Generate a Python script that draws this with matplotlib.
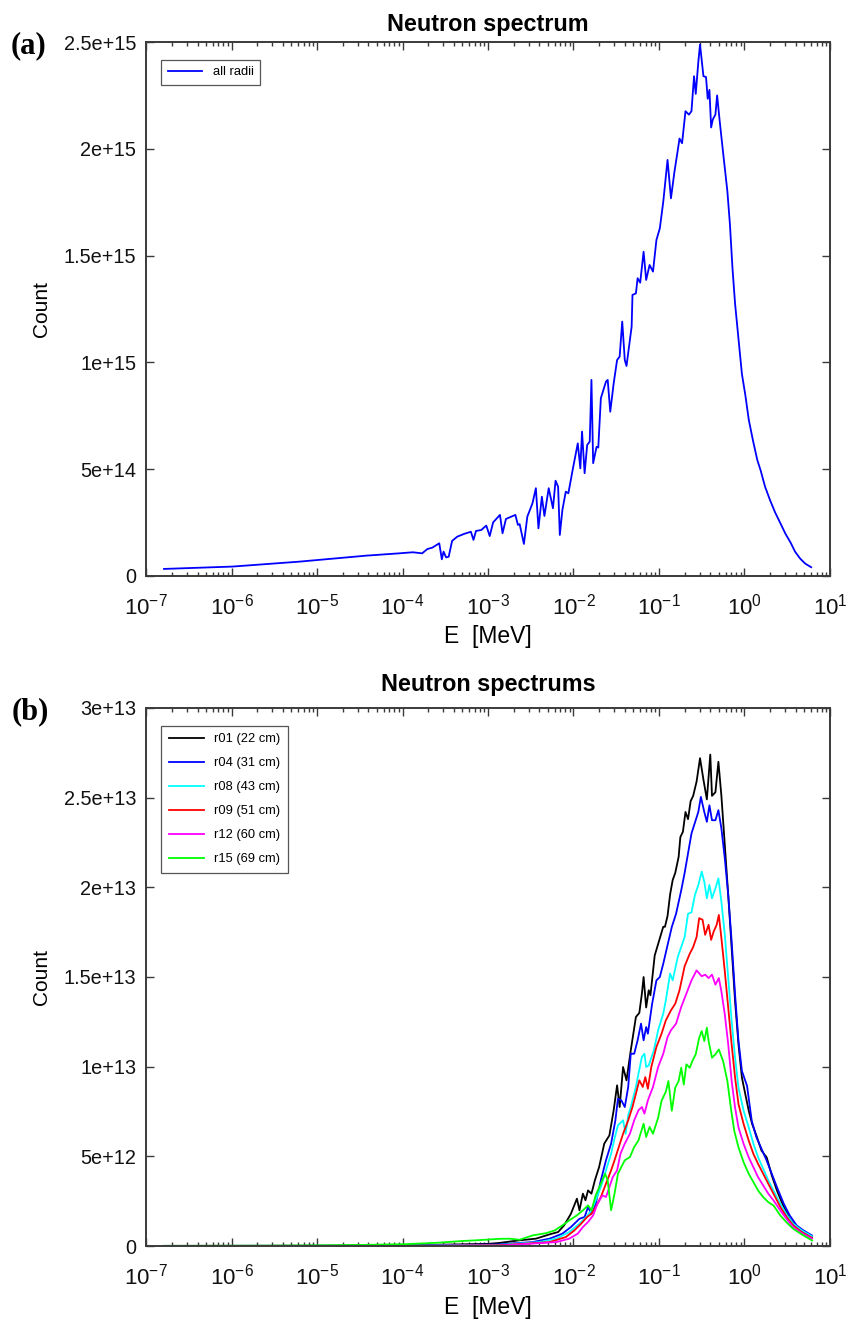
import numpy as np
import matplotlib
matplotlib.use("Agg")
import matplotlib.pyplot as plt
from matplotlib.ticker import LogLocator, FuncFormatter, NullFormatter

plt.rcParams['font.family'] = ['Liberation Sans', 'DejaVu Sans']
plt.rcParams['mathtext.fontset'] = 'custom'
plt.rcParams['mathtext.rm'] = 'Liberation Sans'
plt.rcParams['axes.unicode_minus'] = False

# ---- (a) total spectrum, all radii: log10(E/MeV) and count in 1e15 ----
all_logE = [-6.79, -5.99, -5.21, -4.68, -4.43, -4.04, -3.88, -3.77, -3.71, -3.65,
            -3.57, -3.54, -3.52, -3.49, -3.46, -3.42, -3.36, -3.28, -3.20, -3.17,
            -3.14, -3.08, -3.02, -2.98, -2.94, -2.86, -2.83, -2.79, -2.68, -2.65,
            -2.63, -2.58, -2.54, -2.48, -2.44, -2.41, -2.37, -2.34, -2.29, -2.24,
            -2.21, -2.18, -2.16, -2.13, -2.09, -2.06, -2.01, -1.95, -1.92, -1.90,
            -1.87, -1.84, -1.81, -1.79, -1.77, -1.73, -1.71, -1.68, -1.62, -1.60,
            -1.57, -1.53, -1.49, -1.46, -1.43, -1.40, -1.38, -1.32, -1.31, -1.27,
            -1.25, -1.22, -1.18, -1.15, -1.11, -1.07, -1.03, -0.99, -0.95, -0.90,
            -0.86, -0.82, -0.78, -0.76, -0.73, -0.69, -0.65, -0.62, -0.59, -0.57,
            -0.54, -0.52, -0.48, -0.45, -0.43, -0.41, -0.39, -0.37, -0.34, -0.32,
            -0.29, -0.25, -0.20, -0.17, -0.14, -0.11, -0.07, -0.03, 0.01, 0.05,
            0.10, 0.15, 0.19, 0.24, 0.30, 0.36, 0.42, 0.48, 0.54, 0.59,
            0.65, 0.71, 0.78]
all_count = [0.033, 0.044, 0.067, 0.086, 0.095, 0.106, 0.111, 0.106, 0.126, 0.133,
             0.153, 0.078, 0.114, 0.087, 0.090, 0.164, 0.184, 0.197, 0.207, 0.169,
             0.211, 0.215, 0.236, 0.187, 0.251, 0.286, 0.200, 0.267, 0.286, 0.239,
             0.243, 0.150, 0.278, 0.340, 0.411, 0.223, 0.371, 0.281, 0.411, 0.317,
             0.446, 0.418, 0.192, 0.309, 0.395, 0.387, 0.496, 0.621, 0.504, 0.676,
             0.481, 0.613, 0.629, 0.918, 0.528, 0.605, 0.601, 0.832, 0.910, 0.918,
             0.769, 0.902, 1.011, 1.027, 1.191, 1.011, 0.983, 1.167, 1.316, 1.323,
             1.394, 1.373, 1.518, 1.386, 1.456, 1.425, 1.573, 1.628, 1.752, 1.948,
             1.768, 1.890, 1.994, 2.048, 2.026, 2.176, 2.160, 2.176, 2.340, 2.257,
             2.406, 2.488, 2.340, 2.336, 2.234, 2.276, 2.100, 2.138, 2.160, 2.250,
             2.130, 1.982, 1.801, 1.645, 1.439, 1.275, 1.110, 0.946, 0.847, 0.732,
             0.633, 0.543, 0.493, 0.419, 0.354, 0.296, 0.247, 0.197, 0.156, 0.115,
             0.082, 0.058, 0.041]

# ---- (b) spectra per radius: log10(E/MeV) and count in 1e13 ----
r01_logE = [-6.79, -5.0, -4.0, -3.5, -3.0, -2.87, -2.63, -2.44, -2.28, -2.18,
            -2.11, -2.03, -1.96, -1.93, -1.89, -1.86, -1.83, -1.79, -1.75, -1.70,
            -1.64, -1.58, -1.53, -1.49, -1.46, -1.42, -1.38, -1.33, -1.27, -1.23,
            -1.20, -1.18, -1.15, -1.12, -1.10, -1.05, -1.00, -0.95, -0.93, -0.90,
            -0.87, -0.84, -0.81, -0.77, -0.75, -0.72, -0.69, -0.66, -0.63, -0.60,
            -0.56, -0.52, -0.48, -0.44, -0.40, -0.38, -0.34, -0.305, -0.27, -0.23,
            -0.19, -0.15, -0.11, -0.07, -0.03, 0.01, 0.05, 0.09, 0.14, 0.20,
            0.26, 0.32, 0.38, 0.46, 0.53, 0.61, 0.69, 0.79]
r01_count = [0.001, 0.002, 0.004, 0.008, 0.012, 0.017, 0.032, 0.041, 0.065, 0.078,
             0.115, 0.180, 0.264, 0.199, 0.292, 0.255, 0.310, 0.292, 0.366, 0.441,
             0.571, 0.617, 0.757, 0.896, 0.775, 0.998, 0.924, 1.091, 1.277, 1.300,
             1.407, 1.500, 1.330, 1.426, 1.398, 1.620, 1.700, 1.780, 1.780, 1.840,
             1.960, 2.040, 2.080, 2.170, 2.280, 2.310, 2.420, 2.380, 2.480, 2.510,
             2.590, 2.720, 2.600, 2.490, 2.740, 2.510, 2.530, 2.700, 2.510, 2.235,
             1.957, 1.661, 1.365, 1.124, 0.939, 0.846, 0.754, 0.680, 0.615, 0.531,
             0.494, 0.393, 0.309, 0.217, 0.152, 0.106, 0.078, 0.050]

r04_logE = [-6.79, -5.0, -4.0, -3.5, -3.0, -2.87, -2.48, -2.28, -2.13, -2.03,
            -1.93, -1.87, -1.83, -1.79, -1.74, -1.68, -1.62, -1.56, -1.51, -1.48,
            -1.44, -1.40, -1.36, -1.33, -1.29, -1.25, -1.21, -1.18, -1.15, -1.13,
            -1.08, -1.03, -0.99, -0.95, -0.90, -0.85, -0.80, -0.74, -0.70, -0.66,
            -0.62, -0.58, -0.54, -0.51, -0.47, -0.44, -0.41, -0.38, -0.34, -0.305,
            -0.27, -0.23, -0.19, -0.15, -0.11, -0.07, -0.03, 0.03, 0.085, 0.14,
            0.20, 0.26, 0.32, 0.38, 0.46, 0.53, 0.61, 0.69, 0.79]
r04_count = [0.0005, 0.001, 0.002, 0.005, 0.008, 0.009, 0.022, 0.041, 0.069, 0.106,
             0.152, 0.162, 0.217, 0.180, 0.236, 0.366, 0.478, 0.571, 0.701, 0.822,
             0.812, 0.775, 0.887, 1.072, 1.072, 1.147, 1.240, 1.147, 1.221, 1.184,
             1.351, 1.481, 1.500, 1.574, 1.677, 1.779, 1.853, 1.983, 2.080, 2.190,
             2.300, 2.360, 2.420, 2.504, 2.420, 2.365, 2.457, 2.374, 2.374, 2.430,
             2.328, 2.161, 1.957, 1.698, 1.402, 1.143, 0.976, 0.893, 0.698, 0.606,
             0.541, 0.476, 0.402, 0.328, 0.235, 0.170, 0.115, 0.087, 0.059]

r08_logE = [-6.79, -5.0, -4.0, -3.5, -3.0, -2.87, -2.40, -2.20, -2.05, -1.93,
            -1.85, -1.79, -1.74, -1.68, -1.62, -1.56, -1.52, -1.48, -1.42, -1.39,
            -1.36, -1.33, -1.27, -1.24, -1.20, -1.17, -1.15, -1.12, -1.06, -1.01,
            -0.95, -0.92, -0.87, -0.84, -0.78, -0.70, -0.66, -0.62, -0.58, -0.54,
            -0.50, -0.47, -0.44, -0.41, -0.38, -0.34, -0.305, -0.27, -0.23, -0.19,
            -0.15, -0.11, -0.07, -0.01, 0.05, 0.105, 0.16, 0.22, 0.28, 0.34,
            0.42, 0.50, 0.57, 0.67, 0.79]
r08_count = [0.0005, 0.001, 0.002, 0.004, 0.006, 0.006, 0.022, 0.041, 0.078, 0.125,
             0.162, 0.199, 0.255, 0.329, 0.422, 0.515, 0.599, 0.673, 0.701, 0.626,
             0.729, 0.775, 0.887, 0.961, 1.054, 1.072, 0.998, 1.007, 1.091, 1.203,
             1.296, 1.370, 1.519, 1.481, 1.612, 1.723, 1.853, 1.860, 1.957, 2.013,
             2.087, 2.031, 1.939, 2.013, 1.939, 1.994, 2.050, 1.920, 1.735, 1.494,
             1.254, 1.050, 0.883, 0.754, 0.661, 0.569, 0.494, 0.430, 0.365, 0.309,
             0.235, 0.170, 0.124, 0.087, 0.054]

r09_logE = [-6.79, -5.0, -4.0, -3.5, -3.0, -2.87, -2.28, -2.09, -1.99, -1.91,
            -1.84, -1.79, -1.74, -1.68, -1.62, -1.56, -1.52, -1.47, -1.42, -1.36,
            -1.31, -1.27, -1.23, -1.19, -1.16, -1.13, -1.09, -1.03, -0.97, -0.92,
            -0.86, -0.81, -0.76, -0.70, -0.64, -0.60, -0.56, -0.53, -0.49, -0.46,
            -0.42, -0.39, -0.36, -0.325, -0.30, -0.27, -0.23, -0.19, -0.15, -0.11,
            -0.07, -0.01, 0.05, 0.105, 0.16, 0.22, 0.28, 0.34, 0.42, 0.50,
            0.57, 0.67, 0.79]
r09_count = [0.0003, 0.0005, 0.001, 0.002, 0.004, 0.004, 0.022, 0.050, 0.087, 0.125,
             0.162, 0.180, 0.217, 0.273, 0.348, 0.422, 0.478, 0.552, 0.626, 0.701,
             0.775, 0.849, 0.924, 0.887, 0.942, 0.877, 0.998, 1.110, 1.184, 1.258,
             1.314, 1.351, 1.426, 1.560, 1.630, 1.667, 1.723, 1.828, 1.819, 1.735,
             1.791, 1.707, 1.754, 1.791, 1.846, 1.717, 1.531, 1.328, 1.124, 0.939,
             0.791, 0.680, 0.587, 0.513, 0.457, 0.402, 0.346, 0.291, 0.217, 0.157,
             0.115, 0.078, 0.046]

r12_logE = [-6.79, -5.0, -4.0, -3.5, -3.0, -2.87, -2.20, -2.05, -1.95, -1.89,
            -1.83, -1.77, -1.72, -1.66, -1.62, -1.58, -1.54, -1.49, -1.45, -1.40,
            -1.34, -1.29, -1.24, -1.20, -1.17, -1.13, -1.07, -1.01, -0.95, -0.90,
            -0.86, -0.80, -0.74, -0.68, -0.62, -0.56, -0.50, -0.46, -0.42, -0.38,
            -0.34, -0.30, -0.27, -0.23, -0.19, -0.15, -0.11, -0.07, -0.01, 0.05,
            0.105, 0.16, 0.22, 0.28, 0.34, 0.42, 0.50, 0.57, 0.67, 0.79]
r12_count = [0.0003, 0.0005, 0.001, 0.002, 0.003, 0.002, 0.022, 0.041, 0.069, 0.106,
             0.134, 0.171, 0.236, 0.283, 0.273, 0.329, 0.385, 0.422, 0.515, 0.571,
             0.626, 0.701, 0.757, 0.775, 0.738, 0.812, 0.887, 0.998, 1.072, 1.165,
             1.203, 1.240, 1.333, 1.407, 1.481, 1.537, 1.504, 1.513, 1.494, 1.513,
             1.457, 1.494, 1.420, 1.291, 1.124, 0.920, 0.772, 0.661, 0.569, 0.494,
             0.439, 0.383, 0.337, 0.291, 0.254, 0.198, 0.146, 0.106, 0.072, 0.041]

r15_logE = [-6.79, -5.5, -4.9, -4.5, -4.0, -3.6, -3.3, -3.14, -3.0, -2.87,
            -2.75, -2.63, -2.48, -2.32, -2.22, -2.13, -2.05, -1.96, -1.89, -1.83,
            -1.79, -1.74, -1.68, -1.63, -1.60, -1.56, -1.52, -1.48, -1.44, -1.40,
            -1.34, -1.29, -1.24, -1.18, -1.15, -1.11, -1.07, -1.01, -0.97, -0.92,
            -0.89, -0.85, -0.81, -0.77, -0.74, -0.71, -0.68, -0.64, -0.61, -0.57,
            -0.53, -0.50, -0.47, -0.44, -0.42, -0.38, -0.34, -0.30, -0.25, -0.20,
            -0.16, -0.12, -0.07, -0.01, 0.05, 0.105, 0.16, 0.22, 0.28, 0.34,
            0.42, 0.50, 0.57, 0.67, 0.79]
r15_count = [0.001, 0.002, 0.004, 0.006, 0.010, 0.018, 0.028, 0.032, 0.036, 0.040,
             0.041, 0.035, 0.059, 0.072, 0.087, 0.115, 0.143, 0.171, 0.199, 0.227,
             0.199, 0.283, 0.348, 0.403, 0.366, 0.199, 0.292, 0.403, 0.441, 0.478,
             0.496, 0.552, 0.589, 0.682, 0.608, 0.664, 0.626, 0.715, 0.810, 0.860,
             0.920, 0.754, 0.883, 0.920, 0.994, 0.900, 1.013, 0.994, 1.031, 1.069,
             1.161, 1.198, 1.143, 1.217, 1.143, 1.050, 1.069, 1.096, 1.031, 0.920,
             0.772, 0.643, 0.550, 0.467, 0.402, 0.356, 0.309, 0.272, 0.244, 0.226,
             0.170, 0.128, 0.096, 0.065, 0.031]

radius_labels = ['r01 (22 cm)', 'r04 (31 cm)', 'r08 (43 cm)',
                 'r09 (51 cm)', 'r12 (60 cm)', 'r15 (69 cm)']
radius_colors = ['#000000', '#0000ff', '#00ffff', '#ff0000', '#ff00ff', '#00ff00']
radius_series = [(r01_logE, r01_count), (r04_logE, r04_count), (r08_logE, r08_count),
                 (r09_logE, r09_count), (r12_logE, r12_count), (r15_logE, r15_count)]

fig = plt.figure(figsize=(8.53, 13.25), dpi=100)
ax_a = fig.add_axes([0.1712, 0.5653, 0.8018, 0.4030])
ax_b = fig.add_axes([0.1712, 0.0596, 0.8018, 0.4061])

spine_col = '#3a3a3a'


def style_axes(ax, ymax, ystep):
    ax.set_xscale('log')
    ax.set_xlim(1e-7, 1e1)
    ax.set_ylim(0, ymax)
    ax.set_yticks(np.arange(0, ymax + ystep / 2, ystep))
    ax.yaxis.set_major_formatter(FuncFormatter(lambda v, p: '%g' % v))
    ax.xaxis.set_major_locator(LogLocator(base=10, numticks=20))
    ax.xaxis.set_minor_locator(LogLocator(base=10, subs=np.arange(2, 10), numticks=20))
    ax.xaxis.set_minor_formatter(NullFormatter())
    ax.tick_params(which='both', direction='in', top=True, right=True,
                   color=spine_col, width=1.0, labelcolor='#111111')
    ax.tick_params(which='major', length=6)
    ax.tick_params(which='minor', length=3)
    ax.tick_params(axis='y', labelsize=14.3, pad=7)
    ax.tick_params(axis='x', labelsize=16, pad=13)
    for s in ax.spines.values():
        s.set_color(spine_col)
        s.set_linewidth(1.4)
    ax.set_ylabel('Count', fontsize=15, labelpad=9)
    ax.set_xlabel('E  [MeV]', fontsize=16.5, labelpad=4)


# (a) all radii
ax_a.plot(10.0 ** np.array(all_logE), np.array(all_count) * 1e15,
          color='#0000ff', lw=1.3, label='all radii')
style_axes(ax_a, 2.5e15, 5e14)
ax_a.set_title('Neutron spectrum', fontsize=16.8, fontweight='bold', pad=8)
leg_a = ax_a.legend(loc='upper left', bbox_to_anchor=(0.022, 0.967), fontsize=9.3,
                    fancybox=False, edgecolor='#555555', handlelength=2.7,
                    borderpad=0.5, borderaxespad=0.0, framealpha=1)
leg_a.get_frame().set_linewidth(0.9)

# (b) individual radii
for (lx, cy), lab, col in zip(radius_series, radius_labels, radius_colors):
    ax_b.plot(10.0 ** np.array(lx), np.array(cy) * 1e13, color=col, lw=1.3, label=lab)
style_axes(ax_b, 3e13, 5e12)
ax_b.set_title('Neutron spectrums', fontsize=16.8, fontweight='bold', pad=12)
leg_b = ax_b.legend(loc='upper left', bbox_to_anchor=(0.022, 0.967), fontsize=9.3,
                    fancybox=False, edgecolor='#555555', handlelength=2.7,
                    borderpad=0.6, labelspacing=0.92, borderaxespad=0.0, framealpha=1)
leg_b.get_frame().set_linewidth(0.9)

# panel letters
fig.text(0.012, 0.9655, '(a)', fontsize=22, fontweight='bold',
         family=['Liberation Serif', 'DejaVu Serif'], va='center', ha='left')
fig.text(0.014, 0.4625, '(b)', fontsize=22, fontweight='bold',
         family=['Liberation Serif', 'DejaVu Serif'], va='center', ha='left')

fig.savefig('out.png', dpi=100, facecolor='white')
